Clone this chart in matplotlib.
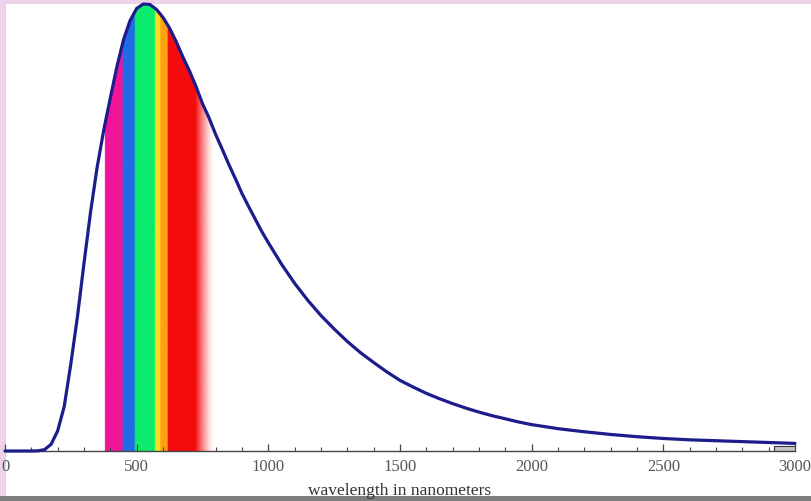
import numpy as np
import matplotlib
matplotlib.use("Agg")
import matplotlib.pyplot as plt
from matplotlib.patches import Polygon, Rectangle
from matplotlib.colors import to_rgb

# ---- data (relative intensity, peak = 1) ----
wavelength_nm = [0, 100, 125, 150, 175, 200, 225, 250, 275, 300, 325, 350, 375,
                 400, 425, 450, 475, 500, 525, 550, 575, 600, 625, 650, 675, 700,
                 725, 750, 775, 800, 825, 850, 875, 900, 925, 950, 975, 1000,
                 1050, 1100, 1150, 1200, 1250, 1300, 1350, 1400, 1450, 1500, 1550,
                 1600, 1650, 1700, 1750, 1800, 1850, 1900, 1950, 2000, 2100, 2200,
                 2300, 2400, 2500, 2600, 2700, 2800, 2900, 3000]
intensity = [0.0, 0.0, 0.0004, 0.003, 0.015, 0.045, 0.100, 0.195, 0.300, 0.420, 0.535,
             0.635, 0.718, 0.790, 0.860, 0.920, 0.963, 0.990, 1.0, 0.999, 0.988, 0.970,
             0.946, 0.916, 0.882, 0.851, 0.816, 0.777, 0.745, 0.708, 0.675, 0.641, 0.609,
             0.576, 0.547, 0.519, 0.491, 0.466, 0.418, 0.375, 0.337, 0.303, 0.273, 0.245,
             0.220, 0.198, 0.177, 0.158, 0.143, 0.129, 0.117, 0.106, 0.096, 0.087, 0.079,
             0.072, 0.065, 0.059, 0.050, 0.043, 0.037, 0.032, 0.028, 0.025, 0.023, 0.021,
             0.019, 0.017]

# visible spectrum bands (start nm, end nm, colour)
band_start = [380, 448, 494, 570, 590, 618]
band_end = [448, 494, 570, 590, 618, 790]
band_color = ["#f0149a", "#1f6be8", "#0cec6c", "#f5e020", "#ffa010", "#f50a0a"]
red_fade_start = 722

xticks_major = [0, 500, 1000, 1500, 2000, 2500, 3000]
xtick_labels = ["0", "500", "1000", "1500", "2000", "2500", "3000"]
xlabel = "wavelength in nanometers"

W, H = 811, 502
fig = plt.figure(figsize=(W / 100, H / 100), dpi=100)
fig.patch.set_facecolor("#ecd3ea")
# background axes for the white panel and grey bar
bg = fig.add_axes([0, 0, 1, 1], zorder=-5)
bg.set_xlim(0, W)
bg.set_ylim(0, H)
bg.axis("off")
bg.add_patch(Rectangle((5, 5), W - 5, H - 10, facecolor="white", edgecolor="none"))
bg.add_patch(Rectangle((0, 0), W, 5, facecolor="#7d7d7d", edgecolor="none"))
bg.add_patch(Rectangle((5, 5), 1.2, H - 10, facecolor="#d8d8d8", edgecolor="none"))

ax = fig.add_axes([5 / W, 50 / H, 790 / W, 447 / H], zorder=1)
ax.set_facecolor("none")
ax.set_xlim(0, 3000)
ax.set_ylim(0, 1.0)

# spectrum image clipped under the curve
grid = np.linspace(370, 800, 1200)
rgba = np.ones((1, grid.size, 4))
rgba[..., 3] = 0.0
for s, e, c in zip(band_start, band_end, band_color):
    m = (grid >= s) & (grid < e)
    rgba[0, m, :3] = to_rgb(c)
    rgba[0, m, 3] = 1.0
fade = (grid >= red_fade_start) & (grid < band_end[-1])
rgba[0, fade, 3] = np.clip(1 - (grid[fade] - red_fade_start) / (band_end[-1] - red_fade_start), 0, 1) ** 1.3
k = np.ones(7) / 7
for ch in range(4):
    rgba[0, :, ch] = np.convolve(np.pad(rgba[0, :, ch], 3, mode="edge"), k, mode="valid")

im = ax.imshow(rgba, extent=(grid[0], grid[-1], 0, 1.0), aspect="auto",
               interpolation="bilinear", zorder=1)
poly = Polygon(np.column_stack([wavelength_nm + [3000, 0], intensity + [0, 0]]),
               closed=True, facecolor="none", edgecolor="none")
ax.add_patch(poly)
im.set_clip_path(poly)

ax.plot(wavelength_nm, intensity, color="#1c1c8c", lw=2.3, zorder=3,
        solid_joinstyle="round", solid_capstyle="round", clip_on=False)

ax.add_patch(Rectangle((2920, 0), 80, 0.012, facecolor="#c8c8c8",
                       edgecolor="#333333", lw=0.8, zorder=2))

for sp in ["top", "right", "left"]:
    ax.spines[sp].set_visible(False)
ax.spines["bottom"].set_color("#444444")
ax.spines["bottom"].set_linewidth(1.0)
ax.set_yticks([])
ax.set_xticks(xticks_major)
ax.set_xticklabels(xtick_labels, family="Liberation Serif", fontsize=12, color="#555555")
ax.set_xticks(np.arange(100, 3000, 100), minor=True)
ax.tick_params(axis="x", which="major", direction="in", length=5, width=0.9,
               color="#444444", pad=5)
ax.tick_params(axis="x", which="minor", direction="in", length=3, width=0.8,
               color="#444444")

fig.text(400 / W, (502 - 491) / H, xlabel, family="Liberation Serif", fontsize=12.5,
         color="#333333", ha="center", va="center")

fig.savefig("out.png", dpi=100, facecolor=fig.get_facecolor())
